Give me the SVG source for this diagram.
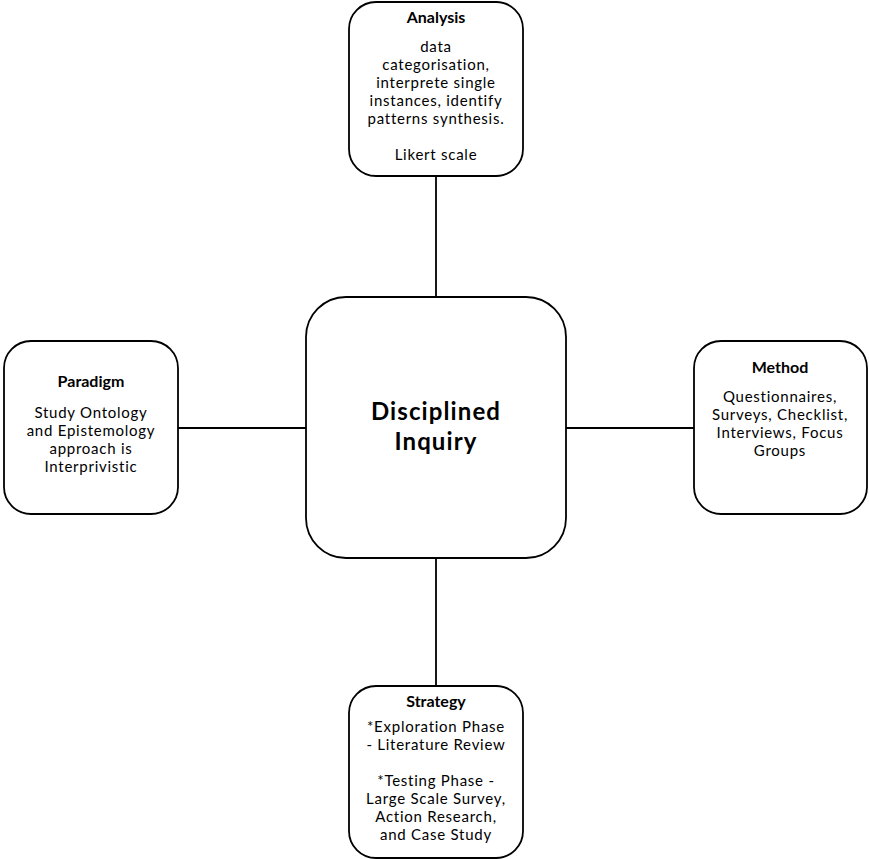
<svg xmlns="http://www.w3.org/2000/svg" width="869" height="859" viewBox="0 0 869 859">
<style>
.box{fill:#fff;stroke:#000;stroke-width:1.8}
.t{font-family:Lato,"Liberation Sans",sans-serif;font-size:15px;letter-spacing:0.75px;fill:#000;text-anchor:middle}
.h{font-family:Lato,"Liberation Sans",sans-serif;font-size:16px;font-weight:bold;fill:#000;text-anchor:middle}
.c{font-family:Lato,"Liberation Sans",sans-serif;font-size:24px;letter-spacing:1.1px;font-weight:bold;fill:#000;text-anchor:middle}
.ln{stroke:#000;stroke-width:1.8;fill:none}
</style>
<rect width="869" height="859" fill="#fff"/>
<g id="connectors">
<line class="ln" x1="436" y1="176" x2="436" y2="298"/>
<line class="ln" x1="436" y1="558" x2="436" y2="686"/>
<line class="ln" x1="178" y1="428" x2="306" y2="428"/>
<line class="ln" x1="566" y1="428" x2="694" y2="428"/>
</g>
<g id="center">
<rect class="box" x="306" y="297" width="260" height="261" rx="40"/>
<text class="c" x="436" y="420">Disciplined</text>
<text class="c" x="436" y="450">Inquiry</text>
</g>
<g id="analysis">
<rect class="box" x="349" y="2" width="174" height="174" rx="27"/>
<text class="h" x="436" y="23">Analysis</text>
<text class="t" x="436" y="52">data</text>
<text class="t" x="436" y="70">categorisation,</text>
<text class="t" x="436" y="88">interprete single</text>
<text class="t" x="436" y="106">instances, identify</text>
<text class="t" x="436" y="124">patterns synthesis.</text>
<text class="t" x="436" y="160">Likert scale</text>
</g>
<g id="paradigm">
<rect class="box" x="4" y="341" width="174" height="173" rx="27"/>
<text class="h" x="91" y="387">Paradigm</text>
<text class="t" x="91" y="418">Study Ontology</text>
<text class="t" x="91" y="436">and Epistemology</text>
<text class="t" x="91" y="454">approach is</text>
<text class="t" x="91" y="472">Interprivistic</text>
</g>
<g id="method">
<rect class="box" x="694" y="341" width="173" height="173" rx="27"/>
<text class="h" x="780" y="373">Method</text>
<text class="t" x="780" y="402">Questionnaires,</text>
<text class="t" x="780" y="420">Surveys, Checklist,</text>
<text class="t" x="780" y="438">Interviews, Focus</text>
<text class="t" x="780" y="456">Groups</text>
</g>
<g id="strategy">
<rect class="box" x="349" y="686" width="174" height="172" rx="27"/>
<text class="h" x="436" y="707">Strategy</text>
<text class="t" x="436" y="732">*Exploration Phase</text>
<text class="t" x="436" y="750">- Literature Review</text>
<text class="t" x="436" y="786">*Testing Phase -</text>
<text class="t" x="436" y="804">Large Scale Survey,</text>
<text class="t" x="436" y="822">Action Research,</text>
<text class="t" x="436" y="840">and Case Study</text>
</g>
</svg>
